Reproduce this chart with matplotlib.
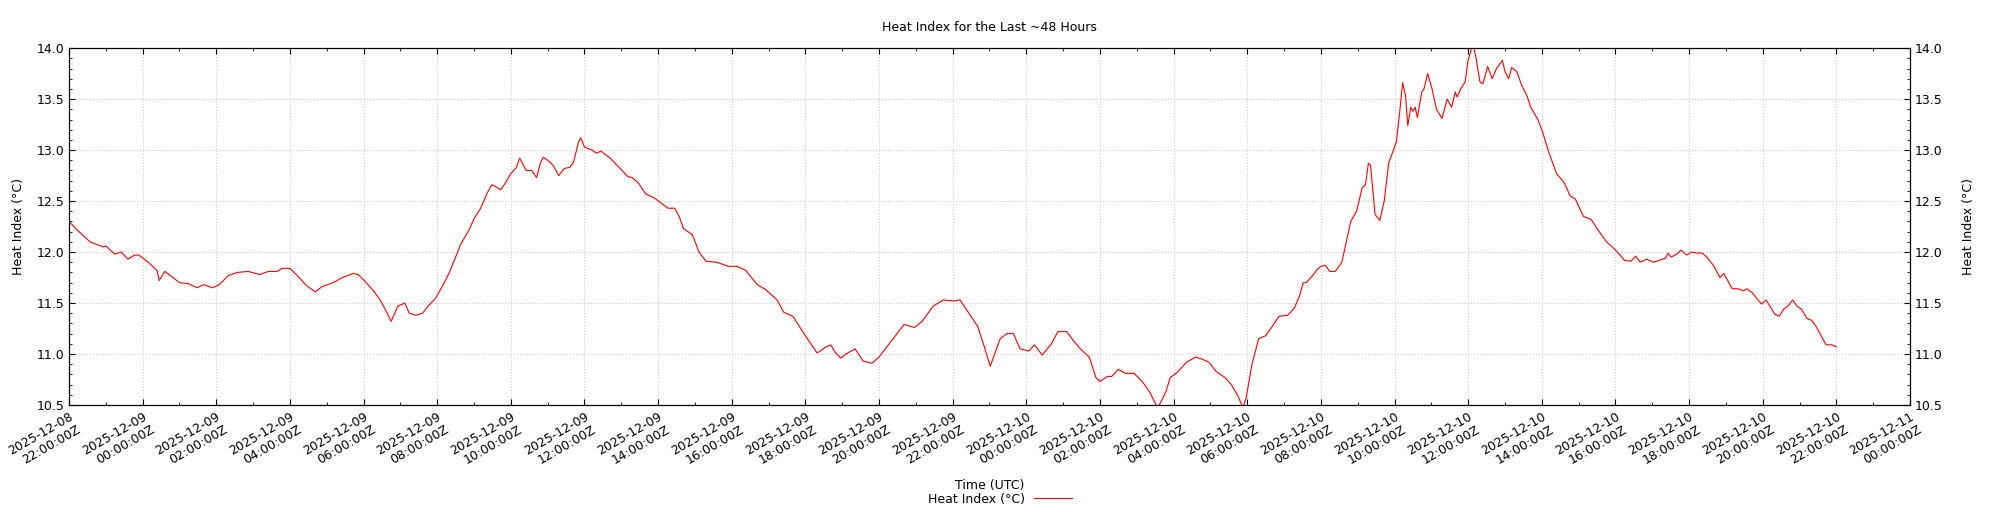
import matplotlib
matplotlib.use('Agg')
from matplotlib import pyplot as plt
import matplotlib.dates as mdates
from matplotlib.ticker import MultipleLocator
import pandas as pd

# hours since 2025-12-08 22:00 UTC
hours = [0.0, 0.27, 0.57, 0.93, 1.0, 1.24, 1.42, 1.6, 1.78, 1.9, 2.15, 2.39, 2.45, 2.6, 2.75,
         3.0, 3.24, 3.48, 3.66, 3.9, 4.08, 4.33, 4.57, 4.87, 5.18, 5.42, 5.66, 5.78, 6.0,
         6.2, 6.45, 6.69, 6.87, 7.18, 7.42, 7.72, 7.85, 8.02, 8.27, 8.45, 8.57, 8.75,
         8.93, 9.12, 9.24, 9.42, 9.6, 9.78, 9.96, 10.15, 10.33, 10.5, 10.63, 10.87, 10.99,
         11.18, 11.36, 11.48, 11.6, 11.72, 11.84, 12.0, 12.15, 12.24, 12.42, 12.57, 12.7,
         12.8, 12.88, 13.0, 13.15, 13.3, 13.45, 13.6, 13.7, 13.84, 13.9, 14.0, 14.2, 14.33,
         14.45, 14.7, 14.94, 15.18, 15.3, 15.48, 15.66, 15.9, 16.08, 16.27, 16.45, 16.57,
         16.69, 16.93, 17.11, 17.3, 17.6, 17.9, 18.14, 18.38, 18.69, 18.93, 19.23, 19.41,
         19.66, 19.96, 20.32, 20.56, 20.69, 20.8, 20.96, 21.1, 21.35, 21.57, 21.81, 22.0,
         22.32, 22.68, 22.96, 23.17, 23.47, 23.75, 24.01, 24.2, 24.44, 24.68, 24.86, 25.02,
         25.29, 25.47, 25.65, 25.83, 26.07, 26.22, 26.43, 26.68, 26.86, 27.1, 27.28, 27.47,
         27.71, 27.89, 28.0, 28.2, 28.32, 28.5, 28.69, 28.93, 29.17, 29.36, 29.54, 29.6,
         29.79, 29.91, 30.1, 30.35, 30.6, 30.77, 30.96, 31.15, 31.39, 31.57, 31.76, 31.88,
         31.97, 32.13, 32.31, 32.5, 32.68, 32.86, 33.1, 33.28, 33.42, 33.52, 33.6, 33.78,
         33.9, 34.0, 34.12, 34.24, 34.39, 34.57, 34.69, 34.81, 34.97, 35.12, 35.21, 35.29,
         35.35, 35.47, 35.6, 35.72, 35.84, 35.96, 36.05, 36.14, 36.22, 36.3, 36.36, 36.44,
         36.5, 36.56, 36.62, 36.74, 36.8, 36.9, 37.02, 37.14, 37.29, 37.43, 37.55, 37.65,
         37.7, 37.8, 37.92, 37.99, 38.07, 38.13, 38.2, 38.32, 38.4, 38.53, 38.65, 38.77,
         38.93, 39.0, 39.1, 39.18, 39.32, 39.46, 39.6, 39.7, 39.89, 40.0, 40.19, 40.4,
         40.61, 40.77, 40.91, 41.13, 41.34, 41.52, 41.76, 42.0, 42.15, 42.24, 42.42, 42.55,
         42.67, 42.85, 43.03, 43.21, 43.36, 43.43, 43.51, 43.67, 43.78, 43.94, 44.06, 44.24,
         44.36, 44.48, 44.66, 44.84, 44.94, 45.05, 45.17, 45.32, 45.48, 45.57, 45.72, 45.87,
         45.97, 46.09, 46.21, 46.33, 46.45, 46.57, 46.71, 46.81, 46.93, 47.05, 47.2, 47.33,
         47.45, 47.6, 47.72, 47.88, 48.0]

heat_index = [12.30, 12.20, 12.10, 12.05, 12.06, 11.98, 12.00, 11.93, 11.97, 11.97, 11.90,
              11.82, 11.72, 11.81, 11.77, 11.70, 11.69, 11.65, 11.68, 11.65, 11.68, 11.77,
              11.80, 11.81, 11.78, 11.81, 11.81, 11.84, 11.84, 11.77, 11.67, 11.61, 11.66,
              11.70, 11.75, 11.79, 11.78, 11.72, 11.62, 11.53, 11.45, 11.32, 11.47, 11.50,
              11.40, 11.38, 11.40, 11.48, 11.55, 11.67, 11.80, 11.95, 12.07, 12.22, 12.32,
              12.43, 12.58, 12.66, 12.64, 12.61, 12.67, 12.77, 12.83, 12.92, 12.80, 12.80,
              12.73, 12.87, 12.93, 12.90, 12.85, 12.75, 12.82, 12.83, 12.88, 13.08, 13.12,
              13.03, 13.00, 12.97, 12.99, 12.92, 12.83, 12.74, 12.73, 12.67, 12.57, 12.53,
              12.48, 12.43, 12.43, 12.35, 12.23, 12.17, 12.00, 11.91, 11.90, 11.86, 11.86,
              11.82, 11.68, 11.63, 11.53, 11.41, 11.37, 11.20, 11.01, 11.07, 11.09, 11.02,
              10.96, 11.00, 11.05, 10.93, 10.91, 10.97, 11.12, 11.29, 11.26, 11.32, 11.47,
              11.53, 11.52, 11.53, 11.40, 11.27, 11.07, 10.88, 11.15, 11.20, 11.20, 11.05,
              11.03, 11.09, 10.99, 11.10, 11.22, 11.22, 11.13, 11.05, 10.97, 10.77, 10.73,
              10.78, 10.78, 10.85, 10.81, 10.81, 10.72, 10.62, 10.49, 10.49, 10.63, 10.77,
              10.82, 10.92, 10.97, 10.95, 10.92, 10.83, 10.77, 10.70, 10.58, 10.47, 10.57,
              10.90, 11.15, 11.18, 11.27, 11.37, 11.38, 11.45, 11.57, 11.70, 11.70, 11.77,
              11.83, 11.86, 11.87, 11.81, 11.81, 11.90, 12.10, 12.30, 12.40, 12.63, 12.66,
              12.87, 12.85, 12.37, 12.31, 12.50, 12.87, 12.99, 13.08, 13.37, 13.66, 13.53,
              13.24, 13.42, 13.38, 13.42, 13.32, 13.57, 13.60, 13.75, 13.60, 13.40, 13.31,
              13.50, 13.42, 13.57, 13.52, 13.60, 13.67, 13.87, 13.97, 14.04, 13.93, 13.67,
              13.65, 13.82, 13.70, 13.80, 13.88, 13.77, 13.70, 13.81, 13.77, 13.63, 13.53,
              13.42, 13.30, 13.20, 12.98, 12.77, 12.68, 12.55, 12.52, 12.35, 12.32, 12.22,
              12.10, 12.02, 11.96, 11.92, 11.91, 11.96, 11.90, 11.93, 11.90, 11.92, 11.94,
              11.99, 11.95, 11.98, 12.02, 11.97, 12.00, 11.99, 11.99, 11.95, 11.87, 11.75,
              11.79, 11.72, 11.64, 11.64, 11.62, 11.64, 11.60, 11.53, 11.49, 11.53, 11.46,
              11.39, 11.37, 11.44, 11.48, 11.53, 11.47, 11.44, 11.35, 11.33, 11.27, 11.17,
              11.09, 11.09, 11.07]

start = pd.Timestamp('2025-12-08 22:00')
x_start = pd.Timestamp('2025-12-08 22:00')
x_end = pd.Timestamp('2025-12-11 00:00')
y_min, y_max = 10.5, 14.0

times = start + pd.to_timedelta(hours, unit='h')

plt.rcParams['font.size'] = 9

fig = plt.figure(figsize=(20, 5.12), dpi=100)
ax = fig.add_axes([0.0345, 0.209, 0.9205, 0.697])

line, = ax.plot(times, heat_index, color='red', lw=0.8, label='Heat Index (°C)')

ax.set_xlim(x_start, x_end)
ax.set_ylim(y_min, y_max)
ax.xaxis.set_major_locator(mdates.HourLocator(byhour=range(0, 24, 2)))
ax.xaxis.set_minor_locator(mdates.HourLocator())
ax.xaxis.set_major_formatter(mdates.DateFormatter('%Y-%m-%d\n%H:%M:%SZ'))
ax.yaxis.set_major_locator(MultipleLocator(0.5))
ax.yaxis.set_minor_locator(MultipleLocator(0.1))
ax.tick_params(which='both', direction='in', top=True, right=True)
ax.tick_params(which='major', length=4)
ax.tick_params(which='minor', length=2)
for lbl in ax.get_xticklabels():
    lbl.set_rotation(30)
    lbl.set_ha('right')
    lbl.set_rotation_mode('anchor')
ax.grid(True, which='major', linestyle=':', color='#cccccc', lw=0.8)

ax.set_ylabel('Heat Index (°C)', labelpad=8)
ax.set_xlabel('Time (UTC)', labelpad=6)
ax.set_title('Heat Index for the Last ~48 Hours', pad=12, fontsize=9)

# mirror the y axis on the right
ax2 = ax.twinx()
ax2.set_ylim(y_min, y_max)
ax2.yaxis.set_major_locator(MultipleLocator(0.5))
ax2.yaxis.set_minor_locator(MultipleLocator(0.1))
ax2.tick_params(which='both', direction='in')
ax2.tick_params(which='major', length=4)
ax2.tick_params(which='minor', length=2)
ax2.set_ylabel('Heat Index (°C)', labelpad=14)

fig.legend(handles=[line], loc='lower center', bbox_to_anchor=(0.5, -0.005), frameon=False,
           markerfirst=False, borderaxespad=0.3, handlelength=3.0, handletextpad=0.7)

fig.savefig('out.png', dpi=100)
